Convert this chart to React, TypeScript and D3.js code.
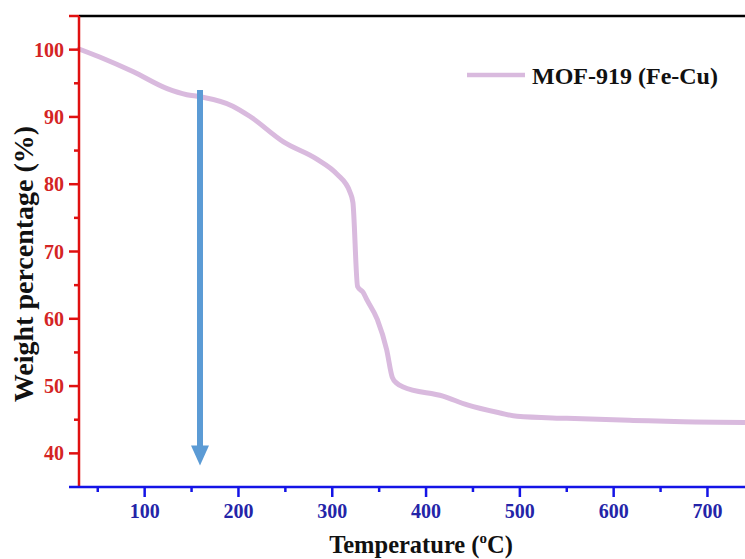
import React from "react";
import * as d3 from "d3";

const temps = [30, 52, 88, 124, 145, 159, 194, 212, 248, 284, 305, 319, 322, 327, 333, 337, 348, 358, 364, 369, 375, 418, 444, 479, 497, 550, 621, 674, 745];
const weights = [100.1, 98.9, 96.7, 94.2, 93.3, 93.0, 91.6, 90.1, 86.3, 83.7, 81.5, 78.8, 77.3, 64.8, 63.9, 62.8, 59.9, 55.4, 51.3, 50.4, 49.9, 48.5, 47.2, 46.0, 45.5, 45.2, 44.9, 44.7, 44.6];
const xTicks = [100, 200, 300, 400, 500, 600, 700];
const xMinor = [50, 150, 250, 350, 450, 550, 650, 750];
const yTicks = [40, 50, 60, 70, 80, 90, 100];
const yMinor = [45, 55, 65, 75, 85, 95];
const seriesName = "MOF-919 (Fe-Cu)";
const arrowT = [159];
const arrowW = [94, 38.2];

const W = 745, H = 559;
const left = 79, top = 16, bottom = 487;

export default function App() {
  const x = d3.scaleLinear().domain([30, 800]).range([left, left + 770 * 0.938]);
  const y = d3.scaleLinear().domain([35, 105]).range([bottom, top]);
  const line = d3
    .line<number>()
    .x((_, i) => x(temps[i]))
    .y((d) => y(d))
    .curve(d3.curveMonotoneX);
  const lineColor = "#d9bade";
  const red = "#e01010";
  const redText = "#d42424";
  const blue = "#1414e6";
  const blueText = "#2424a8";
  const font = "'Liberation Serif', 'Times New Roman', serif";
  const ax = x(arrowT[0]);
  const ay1 = y(arrowW[0]);
  const ayTip = y(arrowW[1]);
  const headH = 20;
  const headW = 9;
  return (
    <svg width={W} height={H} style={{ position: "fixed", left: 0, top: 0, background: "#fff" }} fontFamily={font}>
      <rect width={W} height={H} fill="#fff" />
      {/* top border */}
      <line x1={left} x2={W} y1={top} y2={top} stroke="#000" strokeWidth={2.5} />
      {/* curve */}
      <path d={line(weights) || ""} fill="none" stroke={lineColor} strokeWidth={5} strokeLinejoin="round" strokeLinecap="round" />
      {/* arrow */}
      <line x1={ax} x2={ax} y1={ay1} y2={ayTip - headH + 2} stroke="#5b9bd5" strokeWidth={6} />
      <path d={`M${ax - headW},${ayTip - headH} L${ax + headW},${ayTip - headH} L${ax},${ayTip} Z`} fill="#5b9bd5" />
      {/* y axis */}
      <line x1={left} x2={left} y1={top} y2={bottom + 1} stroke={red} strokeWidth={2.5} />
      <line x1={left - 10} x2={left} y1={top} y2={top} stroke={red} strokeWidth={2.5} />
      {yTicks.map((t) => (
        <g key={"y" + t}>
          <line x1={left - 10} x2={left} y1={y(t)} y2={y(t)} stroke={red} strokeWidth={2.5} />
          <text x={left - 15} y={y(t)} dy="0.35em" textAnchor="end" fontWeight="bold" fontSize={20} fill={redText}>
            {t}
          </text>
        </g>
      ))}
      {yMinor.map((t) => (
        <line key={"ym" + t} x1={left - 5} x2={left} y1={y(t)} y2={y(t)} stroke={red} strokeWidth={2.5} />
      ))}
      {/* x axis */}
      <line x1={left - 10} x2={W} y1={bottom} y2={bottom} stroke={blue} strokeWidth={2.5} />
      {xTicks.map((t) => (
        <g key={"x" + t}>
          <line x1={x(t)} x2={x(t)} y1={bottom} y2={bottom + 10} stroke={blue} strokeWidth={2.5} />
          <text x={x(t)} y={bottom + 31} textAnchor="middle" fontWeight="bold" fontSize={20} fill={blueText}>
            {t}
          </text>
        </g>
      ))}
      {xMinor.map((t) => (
        <line key={"xm" + t} x1={x(t)} x2={x(t)} y1={bottom} y2={bottom + 5} stroke={blue} strokeWidth={2.5} />
      ))}
      {/* axis titles */}
      <text x={421} y={553} textAnchor="middle" fontWeight="bold" fontSize={24.5} fill="#111">
        Temperature (<tspan fontSize={15} dy={-10}>o</tspan><tspan dy={10}>C)</tspan>
      </text>
      <text transform={`translate(33,264) rotate(-90)`} textAnchor="middle" fontWeight="bold" fontSize={28} fill="#111">
        Weight percentage (%)
      </text>
      {/* legend */}
      <line x1={467} x2={525} y1={75} y2={75} stroke={lineColor} strokeWidth={4.5} />
      <text x={532} y={84} fontWeight="bold" fontSize={24} fill="#111">
        {seriesName}
      </text>
    </svg>
  );
}
